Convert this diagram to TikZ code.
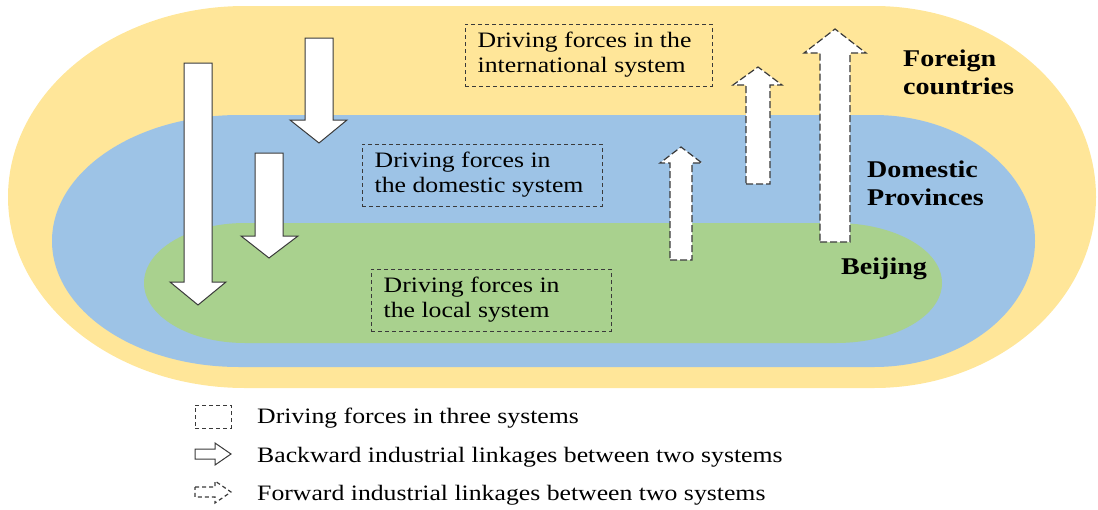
\documentclass[tikz,border=0pt]{standalone}
\usepackage{fontspec}
\setmainfont{Liberation Serif}
\definecolor{yel}{HTML}{FFE699}
\definecolor{blu}{HTML}{9DC3E6}
\definecolor{grn}{HTML}{A9D18E}
\definecolor{edgec}{HTML}{3A3A3A}
\newcommand{\wideX}[1]{\scalebox{1.17}[1]{#1}}
\tikzset{
  txt/.style={font=\fontsize{22}{25}\selectfont, inner sep=0pt},
  lbl/.style={font=\fontsize{24}{28.5}\selectfont\bfseries, anchor=base west, inner sep=0pt},
  dbox/.style={draw=edgec, line width=1pt, dash pattern=on 4pt off 3pt},
  backarrow/.style={draw=edgec, fill=white, line width=1pt, line join=miter},
  fwdarrow/.style={draw=edgec, fill=white, line width=1.2pt, dash pattern=on 7pt off 3pt}
}
\begin{document}
\begin{tikzpicture}[x=1pt,y=-1pt]
\useasboundingbox (0,0) rectangle (1098,509);
% regions
\fill[yel] (245,6) -- (874,6) arc[start angle=-90, end angle=90, x radius=222, y radius=191]
  -- (245,388) arc[start angle=90, end angle=270, x radius=237, y radius=191] -- cycle;
\fill[blu] (239,115) -- (874,115) arc[start angle=-90, end angle=90, x radius=161, y radius=126]
  -- (239,367) arc[start angle=90, end angle=270, x radius=187, y radius=126] -- cycle;
\fill[grn] (245,223) -- (836,223) arc[start angle=-90, end angle=90, x radius=106, y radius=60]
  -- (245,343) arc[start angle=90, end angle=270, x radius=101, y radius=60] -- cycle;
% backward arrows
\draw[backarrow] (184,63) -- (212,63) -- (212,282) -- (226,282) -- (198,305) -- (170,282) -- (184,282) -- cycle;
\draw[backarrow] (305,38) -- (333,38) -- (333,120) -- (347,120) -- (319,143) -- (290,120) -- (305,120) -- cycle;
\draw[backarrow] (255,153) -- (283,153) -- (283,236) -- (298,236) -- (269,258) -- (241,236) -- (255,236) -- cycle;
% forward arrows
\draw[fwdarrow] (670,260) -- (692,260) -- (692,163) -- (702,163) -- (681,147) -- (660,163) -- (670,163) -- cycle;
\draw[fwdarrow] (746,184) -- (770,184) -- (770,85) -- (782,85) -- (758,67) -- (733,85) -- (746,85) -- cycle;
\draw[fwdarrow] (820,242) -- (850,242) -- (850,53) -- (866,53) -- (835,29) -- (804,53) -- (820,53) -- cycle;
% driving force boxes
\node[dbox, minimum width=247pt, minimum height=62pt] (intbox) at (588.5,55) {};
\node[txt, anchor=west] (inttxt) at ([xshift=13pt]intbox.west) {\wideX{\begin{tabular}{@{}l@{}}Driving forces in the\\international system\end{tabular}}};
\node[dbox, minimum width=240pt, minimum height=62pt] (dombox) at (482,175) {};
\node[txt, anchor=west] (domtxt) at ([xshift=13pt]dombox.west) {\wideX{\begin{tabular}{@{}l@{}}Driving forces in\\the domestic system\end{tabular}}};
\node[dbox, minimum width=240pt, minimum height=62pt] (locbox) at (491,300) {};
\node[txt, anchor=west] (loctxt) at ([xshift=13pt]locbox.west) {\wideX{\begin{tabular}{@{}l@{}}Driving forces in\\the local system\end{tabular}}};
% region labels
\node[lbl] (foreign) at (903,66) {\wideX{\begin{tabular}[t]{@{}l@{}}Foreign\\countries\end{tabular}}};
\node[lbl] (domestic) at (867,177) {\wideX{\begin{tabular}[t]{@{}l@{}}Domestic\\Provinces\end{tabular}}};
\node[lbl] (beijing) at (841,274) {\wideX{Beijing}};
% legend
\node[dbox, minimum width=36pt, minimum height=23pt] (legbox) at (213,416.5) {};
\node[txt, anchor=base west] (legt1) at (257,423) {\wideX{Driving forces in three systems}};
\draw[backarrow] (195,449) -- (215,449) -- (215,443) -- (231,454) -- (215,465) -- (215,459) -- (195,459) -- cycle;
\node[txt, anchor=base west] (legt2) at (257,462) {\wideX{Backward industrial linkages between two systems}};
\draw[fwdarrow, dash pattern=on 4pt off 3pt] (195,487) -- (215,487) -- (215,481) -- (231,492) -- (215,503) -- (215,497) -- (195,497) -- cycle;
\node[txt, anchor=base west] (legt3) at (257,500) {\wideX{Forward industrial linkages between two systems}};
\end{tikzpicture}
\end{document}
